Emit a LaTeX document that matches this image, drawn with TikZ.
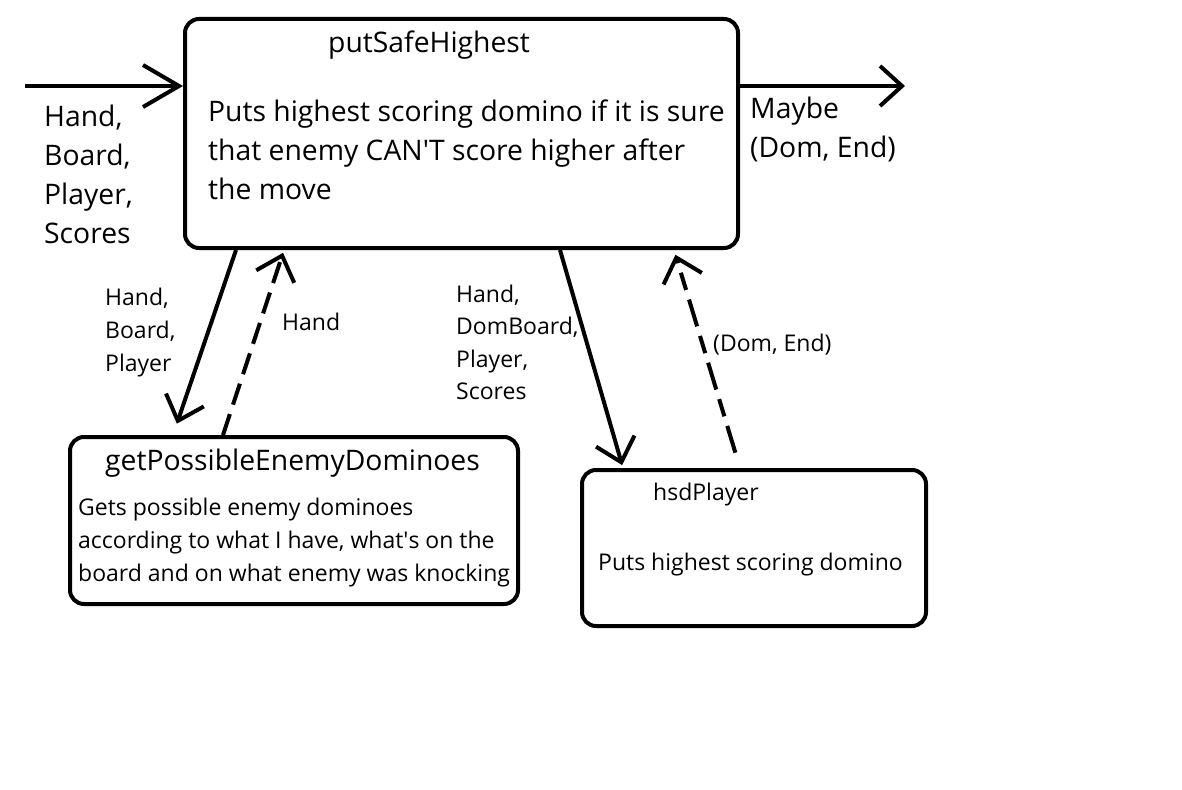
\documentclass[tikz,border=0pt]{standalone}
\usepackage{fontspec}
\setmainfont{Open Sans}
\usetikzlibrary{arrows.meta,calc,positioning}

\tikzset{
  block/.style={draw,line width=4pt,rounded corners=14pt,inner sep=0pt},
  bigtxt/.style={inner sep=0pt,align=left,anchor=base west,font=\fontsize{28.3}{39.3}\selectfont},
  smalltxt/.style={inner sep=0pt,align=left,anchor=base west,font=\fontsize{23}{33}\selectfont},
  flow/.style={line width=4pt,-{Straight Barb[length=22pt,width=40pt]}},
  bigflow/.style={line width=4pt,-{Straight Barb[length=36pt,width=42pt]}},
}

\begin{document}
\begin{tikzpicture}[x=1pt,y=-1pt]
    \useasboundingbox[fill=white] (0,0) rectangle (1182,789);
    % boxes
    \node[block,minimum width=553pt,minimum height=229pt] (safe) at (461.5,133.5) {};
    \node[block,minimum width=448pt,minimum height=167pt] (enemy) at (294,520.5) {};
    \node[block,minimum width=344pt,minimum height=156pt] (hsd) at (754,548) {};
    % texts in the boxes (multi-line nodes sit on their last line)
    \node[bigtxt] (safetitle) at (328,53) {putSafeHighest};
    \node[bigtxt] (safebody) at (208,199.6)
        {Puts highest scoring domino if it is sure\\that enemy CAN\textquotesingle T score higher after\\the move};
    \node[bigtxt] (enemytitle) at (105,470) {getPossibleEnemyDominoes};
    \node[smalltxt,font=\fontsize{23}{33.3}\selectfont] (enemybody) at (78,581.6)
        {Gets possible enemy dominoes\\according to what I have, what\textquotesingle s on the\\board and on what enemy was knocking};
    \node[smalltxt] (hsdtitle) at (653,500) {hsdPlayer};
    \node[smalltxt] (hsdbody) at (598,570) {Puts highest scoring domino};
    % in and out
    \coordinate (in) at (25,86);
    \coordinate (out) at (905,86);
    \draw[bigflow] (in) -- (in -| safe.west);
    \draw[flow] (out -| safe.east) -- (out);
    \node[bigtxt] (inlbl) at (44,243.9) {Hand,\\Board,\\Player,\\Scores};
    \node[bigtxt] (outlbl) at (750,157.3) {Maybe\\(Dom, End)};
    % calls between the functions
    \draw[flow,shorten >=12pt] ([xshift=53pt]safe.south west) -- ([xshift=105pt]enemy.north west);
    \draw[flow,dash pattern=on 22pt off 10pt,shorten >=3pt] ([xshift=155pt]enemy.north west) -- ([xshift=101pt]safe.south west);
    \draw[flow,shorten >=3pt] ([xshift=377pt]safe.south west) -- ([xshift=43pt]hsd.north west);
    \draw[flow,dash pattern=on 28pt off 10pt on 18pt off 10pt,shorten <=16pt,shorten >=5pt] ([xshift=160pt]hsd.north west) -- ([xshift=491pt]safe.south west);
    % labels on the calls
    \node[smalltxt] (lbla) at (105,371.5) {Hand,\\Board,\\Player};
    \node[smalltxt] (lblb) at (282,330) {Hand};
    \node[smalltxt,font=\fontsize{23}{32.6}\selectfont] (lblc) at (456,399.8) {Hand,\\DomBoard,\\Player,\\Scores};
    \node[smalltxt] (lbld) at (713,351) {(Dom, End)};
\end{tikzpicture}
\end{document}
